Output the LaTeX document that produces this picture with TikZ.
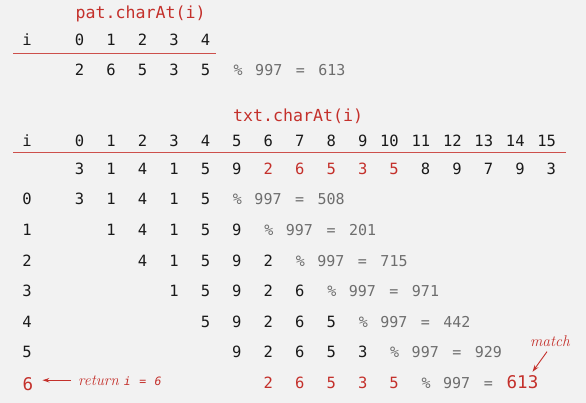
\documentclass[tikz,border=0pt]{standalone}
\usepackage{fontspec}
\usepackage{tikz}
\usetikzlibrary{
        arrows,
        arrows.meta,
        positioning
    }
\newfontfamily\codefont{DejaVu Sans Mono}
\definecolor{bookred}{HTML}{C4302B}
\definecolor{modgray}{HTML}{6E6E6E}
\definecolor{ink}{HTML}{1A1A1A}
\definecolor{pagebg}{HTML}{F2F2F2}
\tikzset{>=stealth',shorten >=1pt,auto}
\newcommand{\modof}[1]{\%\hspace{12.5pt}997\hspace{13.5pt}=\hspace{13.5pt}#1}

\begin{document}
\begin{tikzpicture}[x=1pt,y=-1pt]
                \tikzset{dig/.style={font=\codefont\fontsize{15.5}{18}\selectfont,text=ink,anchor=base east,inner sep=0pt}}
                \tikzset{hit/.style={dig,text=bookred}}
                \tikzset{idx/.style={dig,anchor=base}}
                \tikzset{big/.style={font=\codefont\fontsize{17.5}{20}\selectfont,text=bookred}}
                \tikzset{modtxt/.style={font=\codefont\fontsize{15}{18}\selectfont,text=modgray,anchor=base west,inner sep=0pt}}
                \tikzset{lbl/.style={font=\codefont\fontsize{16.6}{18}\selectfont,text=bookred,anchor=base west,inner sep=0pt}}
                \tikzset{note/.style={font=\itshape\fontsize{15.5}{18}\selectfont,text=bookred,inner sep=0pt}}
                \tikzset{rule/.style={draw=bookred!85,line width=1pt}}
                \tikzset{pointer/.style={-{Stealth[length=7pt,width=4.5pt]},draw=bookred,line width=0.9pt,shorten >=0pt}}
                \useasboundingbox[fill=pagebg] (0,0) rectangle (586,403);
                % pattern
                \node[lbl] (patlbl) at (75.5,19) {pat.charAt(i)};
                \node[idx] (pi) at (27,45.5) {i};
                \foreach \k in {0,...,4}
                    \node[dig] (ph\k) at ({84.5+31.45*\k},45.5) {\k};
                \draw[rule] (13,54) -- (217,54);
                \foreach \d [count=\k from 0] in {2,6,5,3,5}
                    \node[dig] (pv\k) at ({84.5+31.45*\k},75.7) {\d};
                \node[modtxt] (pmod) at (233.5,75.7) {\modof{613}};
                % text
                \node[lbl] (txtlbl) at (233,121.7) {txt.charAt(i)};
                \node[idx] (ti) at (27,146.5) {i};
                \foreach \k in {0,...,15}
                    \node[dig] (th\k) at ({84.5+31.45*\k},146.5) {\k};
                \draw[rule] (13,153) -- (567,153);
                \foreach \d/\s [count=\k from 0] in {3/dig,1/dig,4/dig,1/dig,5/dig,9/dig,2/hit,6/hit,5/hit,3/hit,5/hit,8/dig,9/dig,7/dig,9/dig,3/dig}
                    \node[\s] (tv\k) at ({84.5+31.45*\k},175) {\d};
                % rows
                \foreach \r/\v in {0/508,1/201,2/715,3/971,4/442,5/929} {
                    \node[idx] (r\r) at (27,{205+30.5*\r}) {\r};
                    \foreach \k in {0,...,4} {
                        \pgfmathtruncatemacro\dd{{3,1,4,1,5,9,2,6,5,3,5,8,9,7,9,3}[\r+\k]}
                        \node[dig] (c\r\k) at ({84.5+31.45*(\r+\k)},{205+30.5*\r}) {\dd};
                    }
                    \node[modtxt] (mod\r) at ({75.5+31.45*(\r+5)},{205+30.5*\r}) {\modof{\v}};
                }
                \node[idx,big] (r6) at (28,390) {6};
                \foreach \d [count=\k from 0] in {2,6,5,3,5}
                    \node[hit] (c6\k) at ({84.5+31.45*(6+\k)},388) {\d};
                \node[modtxt] (mod6) at ({75.5+31.45*11},388) {\%\hspace{12.5pt}997\hspace{13.5pt}=};
                \node[dig,big,right=13.5pt of mod6.base east,anchor=base west] (m613) {613};
                % notes
                \node[note,anchor=base west] (ret) at (78,385) {return\hspace{5pt}{\codefont\fontsize{11.5}{14}\selectfont i\hspace{8.5pt}=\hspace{8.5pt}6}};
                \node[note] (match) at (550,341) {match};
                \path (ret.west) edge[pointer,shorten <=7pt,shorten >=9pt] (r6.east |- ret.west);
                \path ([shift={(-3,5)}]match.south) edge[pointer] ([shift={(-6,-3)}]m613.north east);
            \end{tikzpicture}
\end{document}
